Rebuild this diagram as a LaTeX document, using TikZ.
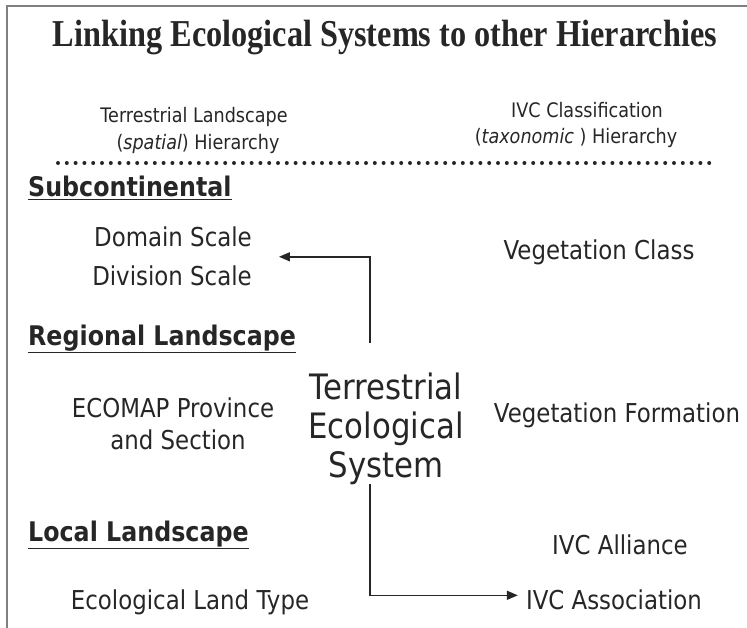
\documentclass[tikz,border=0pt]{standalone}
\usepackage{fontspec}
\setmainfont{DejaVu Sans}[FakeStretch=0.88]
\newfontfamily\titlefont{Liberation Serif}[FakeStretch=0.85]
\usetikzlibrary{arrows.meta,calc}

\tikzset{
  txt/.style={inner sep=0pt, anchor=base, text=black!85},
  small/.style={txt, font=\fontsize{20}{24}\selectfont},
  mid/.style={txt, font=\fontsize{26}{30}\selectfont},
  big/.style={txt, font=\fontsize{35}{39}\selectfont},
  level/.style={txt, anchor=base west, font=\bfseries\fontsize{27}{32}\selectfont},
  link/.style={line width=1.5pt, black!85, -{Triangle[length=11pt,width=9pt]}},
}

\begin{document}
\begin{tikzpicture}[x=1pt,y=-1pt]
  \useasboundingbox (0,0) rectangle (747,628);
  % frame
  \draw[black!50, line width=2pt] (7,628) -- (7,6) -- (747,6);

  \node[txt, font=\titlefont\bfseries\fontsize{38}{44}\selectfont] (title) at (385,47)
    {Linking Ecological Systems to other Hierarchies};

  % column heads
  \node[small] (landa) at (194,123) {Terrestrial Landscape};
  \node[small] (landb) at (198,150) {(\textit{spatial}) Hierarchy};
  \node[small] (ivca) at (587,118) {IVC Classification};
  \node[small] (ivcb) at (576,144) {(\textit{taxonomic} ) Hierarchy};

  \draw[black!85, line width=4pt, line cap=round, dash pattern=on 0pt off 8.8pt]
    (58,163) -- (712,163);

  % spatial levels
  \node[level] (subc) at (28,197) {\underline{Subcontinental}};
  \node[level] (regl) at (28,345) {\underline{Regional Landscape}};
  \node[level] (locl) at (28,541) {\underline{Local Landscape}};

  \node[mid] (dom) at (173,247) {Domain Scale};
  \node[mid] (div) at (172,286) {Division Scale};
  \node[mid] (eco) at (173,417) {ECOMAP Province};
  \node[mid] (sec) at (178,449) {and Section};
  \node[mid] (elt) at (190,609) {Ecological Land Type};

  % taxonomic levels
  \node[mid] (vcls) at (599,260) {Vegetation Class};
  \node[mid] (vfrm) at (617,422) {Vegetation Formation};
  \node[mid] (all) at (620,554) {IVC Alliance};
  \node[mid] (assoc) at (614,609) {IVC Association};

  % ecological system
  \node[big] (sysa) at (386,399) {Terrestrial};
  \node[big] (sysb) at (386,438) {Ecological};
  \node[big] (sysc) at (386,477) {System};

  \draw[link] ($(sysa.north)+(-16,-29)$) |- ($(dom.east)!.5!(div.east)+(27,0)$);
  \draw[link] ($(sysc.south)+(-16,0)$) |- ($(assoc.west)+(-8,-4)$);
\end{tikzpicture}
\end{document}
